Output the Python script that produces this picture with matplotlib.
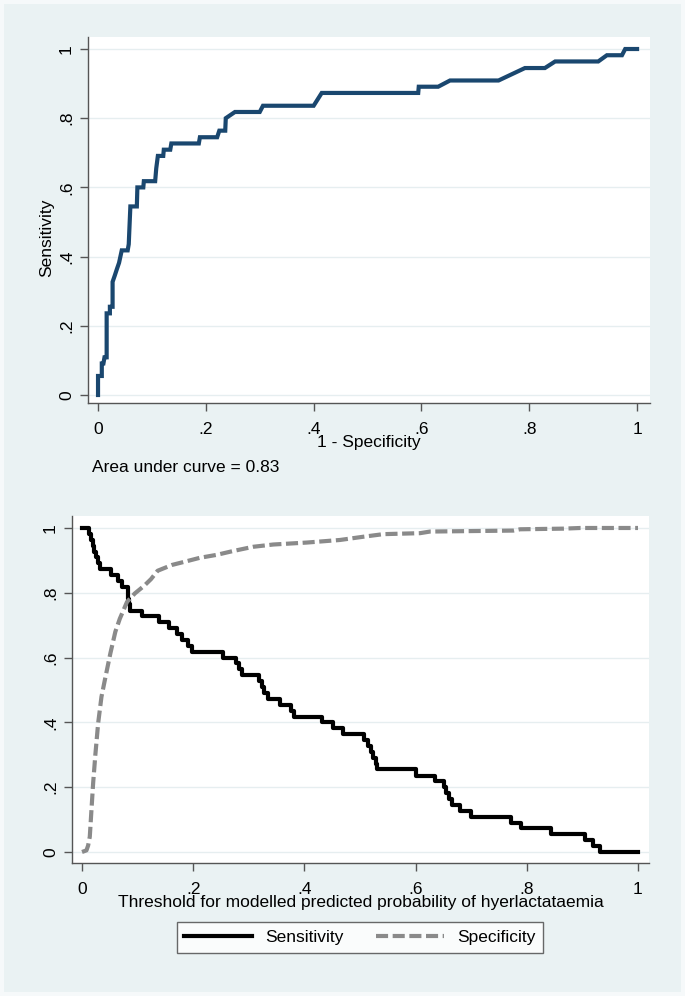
import matplotlib
matplotlib.use("Agg")
import matplotlib.pyplot as plt
from matplotlib.patches import Rectangle

plt.rcParams["font.family"] = ["Liberation Sans", "DejaVu Sans"]

# ROC curve (1 - specificity, sensitivity)
roc_fpr = [0.000, 0.000, 0.007, 0.007, 0.010, 0.012, 0.016, 0.016, 0.022, 0.022,
           0.027, 0.027, 0.031, 0.035, 0.039, 0.044, 0.055, 0.057, 0.058, 0.060,
           0.072, 0.073, 0.084, 0.085, 0.106, 0.108, 0.111, 0.121, 0.122, 0.134,
           0.136, 0.187, 0.189, 0.221, 0.225, 0.236, 0.237, 0.254, 0.300, 0.306,
           0.400, 0.415, 0.594, 0.595, 0.631, 0.653, 0.743, 0.792, 0.829, 0.848,
           0.928, 0.944, 0.972, 0.978, 1.000]
roc_tpr = [0.000, 0.055, 0.055, 0.091, 0.091, 0.109, 0.109, 0.236, 0.236, 0.255,
           0.255, 0.327, 0.345, 0.364, 0.382, 0.418, 0.418, 0.436, 0.473, 0.545,
           0.545, 0.600, 0.600, 0.618, 0.618, 0.655, 0.691, 0.691, 0.709, 0.709,
           0.727, 0.727, 0.745, 0.745, 0.764, 0.764, 0.800, 0.818, 0.818, 0.836,
           0.836, 0.873, 0.873, 0.891, 0.891, 0.909, 0.909, 0.945, 0.945, 0.964,
           0.964, 0.982, 0.982, 1.000, 1.000]
auc_text = "Area under curve = 0.83"

# sensitivity / specificity against probability cutoff
sens_cut = [0.000, 0.013, 0.016, 0.019, 0.022, 0.026, 0.029, 0.032, 0.052, 0.064,
            0.072, 0.083, 0.085, 0.087, 0.108, 0.138, 0.157, 0.171, 0.180, 0.191,
            0.198, 0.254, 0.277, 0.282, 0.287, 0.318, 0.324, 0.328, 0.334, 0.356,
            0.376, 0.381, 0.432, 0.452, 0.469, 0.508, 0.515, 0.520, 0.524, 0.528,
            0.530, 0.600, 0.634, 0.651, 0.654, 0.660, 0.665, 0.680, 0.700, 0.772,
            0.790, 0.844, 0.904, 0.919, 0.931, 1.000]
sens_val = [1.000, 0.982, 0.964, 0.945, 0.927, 0.909, 0.891, 0.873, 0.855, 0.836,
            0.818, 0.782, 0.764, 0.745, 0.727, 0.709, 0.691, 0.673, 0.655, 0.636,
            0.618, 0.600, 0.582, 0.564, 0.545, 0.527, 0.509, 0.491, 0.473, 0.455,
            0.436, 0.418, 0.400, 0.382, 0.364, 0.345, 0.327, 0.309, 0.291, 0.273,
            0.255, 0.236, 0.218, 0.200, 0.182, 0.164, 0.145, 0.127, 0.109, 0.091,
            0.073, 0.055, 0.036, 0.018, 0.000, 0.000]

spec_cut = [0.000, 0.008, 0.011, 0.014, 0.017, 0.020, 0.024, 0.029, 0.035, 0.041,
            0.051, 0.060, 0.068, 0.081, 0.095, 0.112, 0.124, 0.136, 0.162, 0.185,
            0.212, 0.242, 0.272, 0.308, 0.344, 0.404, 0.464, 0.506, 0.542, 0.608,
            0.626, 0.776, 0.788, 0.866, 0.896, 1.000]
spec_val = [0.000, 0.005, 0.020, 0.047, 0.130, 0.212, 0.300, 0.397, 0.479, 0.530,
            0.613, 0.680, 0.720, 0.772, 0.798, 0.822, 0.842, 0.868, 0.886, 0.896,
            0.908, 0.917, 0.929, 0.942, 0.949, 0.955, 0.963, 0.973, 0.981, 0.984,
            0.989, 0.992, 0.996, 0.998, 1.000, 1.000]

ticks = [0, 0.2, 0.4, 0.6, 0.8, 1]
tick_labels = ["0", ".2", ".4", ".6", ".8", "1"]

BG = "#eaf2f3"
FS = 12.5

fig = plt.figure(figsize=(6.85, 9.96), dpi=100, facecolor="#f6f9fa")
fig.patches.append(Rectangle((4 / 685, 4 / 996), 677 / 685, 988 / 996,
                             transform=fig.transFigure, facecolor=BG,
                             edgecolor="none", zorder=-10))


def style(ax):
    ax.set_facecolor("white")
    for s in ["top", "right"]:
        ax.spines[s].set_visible(False)
    for s in ["left", "bottom"]:
        ax.spines[s].set_color("#555555")
        ax.spines[s].set_linewidth(1.0)
    ax.set_xticks(ticks)
    ax.set_xticklabels(tick_labels)
    ax.set_yticks(ticks)
    ax.set_yticklabels(tick_labels, rotation=90, va="center")
    ax.tick_params(direction="out", length=6, width=1, color="#555555",
                   labelsize=FS, labelcolor="black")
    ax.tick_params(axis="x", pad=7.5)
    ax.tick_params(axis="y", pad=4)
    ax.grid(axis="y", color="#e6eef0", lw=1.0)
    ax.set_axisbelow(True)


# top: ROC
ax1 = fig.add_axes([88 / 685, 1 - 403 / 996, 562 / 685, 366 / 996])
style(ax1)
ax1.plot(roc_fpr, roc_tpr, color="#1a476f", lw=3, solid_joinstyle="miter")
ax1.set_xlim(-0.0186, 1.024)
ax1.set_ylim(-0.0231, 1.0347)
ax1.set_xlabel("1 - Specificity", fontsize=FS, labelpad=-1)
fig.text(47 / 685, 1 - 238 / 996, "Sensitivity", rotation=90, fontsize=FS,
         ha="center", va="center")
fig.text(92 / 685, 1 - 467 / 996, auc_text, fontsize=FS, ha="left", va="center")

# bottom: sensitivity / specificity vs cutoff
ax2 = fig.add_axes([72 / 685, 1 - 863 / 996, 577 / 685, 347 / 996])
style(ax2)
ax2.plot(sens_cut, sens_val, color="black", lw=3, drawstyle="steps-post",
         label="Sensitivity")
ax2.plot(spec_cut, spec_val, color="#8a8a8a", lw=3, linestyle=(0, (2.9, 1.1)),
         label="Specificity")
ax2.set_xlim(-0.018, 1.0198)
ax2.set_ylim(-0.034, 1.037)
ax2.set_xlabel("Threshold for modelled predicted probability of hyerlactataemia",
               fontsize=FS, labelpad=-1)

leg = fig.legend(loc="center", bbox_to_anchor=(360 / 685, 1 - 937.5 / 996),
                 ncol=2, fontsize=FS, frameon=True, fancybox=False,
                 handlelength=3.9, handletextpad=0.75, columnspacing=1.9,
                 borderpad=0.45)
leg.get_frame().set_edgecolor("#444444")
leg.get_frame().set_linewidth(1.0)

fig.savefig("out.png", dpi=100, facecolor=fig.get_facecolor())
